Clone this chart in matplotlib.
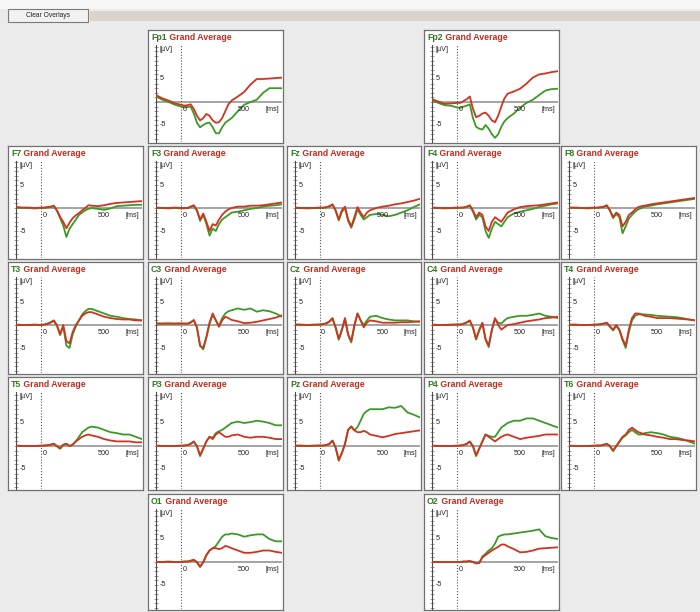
#!/usr/bin/env python3
"""Grand average ERP montage, two conditions overlaid per electrode."""

import matplotlib.pyplot as plt
from matplotlib.patches import Rectangle

W, H = 700, 612

TIME_MS = [-200, -150, -100, -50, 0,
           25, 50, 75, 100, 125, 150, 175, 200, 225, 250, 275, 300, 325, 350, 375, 400,
           450, 500, 550, 600, 650, 700, 750, 800]

# values in microvolts, green = condition A, red = condition B
FP1_G = [1.2, 0.5, 0.0, -0.6, -1.0, -1.2, -1.1, -1.0, -2.5, -4.5, -5.5, -5.0, -4.6, -4.5, -5.5, -6.8, -6.8, -5.5, -4.5, -4.0, -3.5, -2.0, -0.6, 0.0, 0.5, 2.0, 3.0, 3.0, 3.0]
FP1_R = [1.5, 0.8, 0.3, -0.3, -0.6, -0.8, -0.7, -0.5, -1.5, -3.0, -4.0, -3.5, -2.6, -3.0, -4.0, -4.5, -4.4, -3.5, -2.0, -0.5, 0.3, 1.2, 2.2, 3.8, 5.0, 5.0, 5.1, 5.2, 5.3]
FP2_G = [0.4, -0.2, -0.7, -0.8, -1.2, -1.3, -1.0, -0.8, -0.5, -3.5, -5.4, -5.8, -6.0, -5.0, -5.8, -7.0, -7.8, -7.0, -5.4, -4.2, -3.5, -2.5, -1.2, -0.2, 0.5, 1.5, 2.5, 2.8, 2.9]
FP2_R = [0.6, 0.1, -0.4, -0.3, -0.2, -0.2, 0.2, 0.6, 1.2, -1.5, -3.3, -3.0, -2.5, -2.3, -3.0, -4.0, -4.4, -3.0, -1.0, 0.8, 1.8, 2.3, 2.9, 4.0, 5.3, 6.0, 6.2, 6.5, 6.7]

F7_G = [0.1, 0.0, 0.0, -0.1, 0.0, 0.0, 0.1, 0.2, 0.4, -0.6, -2.2, -3.8, -6.3, -4.5, -3.5, -2.5, -1.5, -1.0, -0.5, -0.2, 0.0, -0.2, -0.4, -0.1, 0.4, 0.5, 0.6, 0.7, 0.7]
F7_R = [0.2, 0.1, 0.1, 0.0, 0.1, 0.1, 0.2, 0.3, 0.5, -0.5, -1.9, -3.0, -4.4, -3.2, -2.2, -1.6, -1.1, -0.5, 0.0, 0.6, 0.5, 0.4, 0.6, 0.9, 1.1, 1.2, 1.3, 1.4, 1.5]
F3_G = [0.0, 0.0, -0.1, 0.0, -0.1, -0.1, 0.0, 0.2, 0.5, -0.6, -2.8, -1.5, -3.5, -6.0, -4.5, -5.0, -3.5, -2.5, -2.0, -1.5, -1.0, -0.8, -0.5, -0.2, 0.0, 0.3, 0.5, 0.6, 0.8]
F3_R = [0.1, 0.0, 0.0, 0.1, 0.0, 0.0, 0.0, 0.3, 0.6, -0.5, -2.5, -1.2, -3.0, -5.0, -3.5, -3.8, -2.5, -1.5, -0.8, -0.3, 0.0, 0.3, 0.3, 0.5, 0.5, 0.6, 0.8, 1.0, 1.2]
FZ_G = [0.0, 0.0, -0.1, 0.0, 0.0, 0.0, 0.1, 0.3, 0.7, -0.6, -2.7, -0.8, 0.0, -2.8, -4.3, -2.5, -0.3, -1.5, -2.5, -2.0, -1.5, -1.3, -1.5, -1.8, -1.5, -1.0, -0.5, 0.2, 0.8]
FZ_R = [0.1, 0.0, 0.0, 0.0, 0.1, 0.1, 0.2, 0.4, 0.8, -0.5, -2.5, -0.5, 0.3, -2.5, -4.0, -2.0, 0.2, -1.0, -2.0, -1.0, -0.5, 0.0, 0.3, 0.5, 0.8, 1.0, 1.3, 1.6, 2.0]
F4_G = [0.0, 0.0, -0.1, 0.0, 0.0, 0.0, 0.1, 0.2, 0.5, -0.8, -2.5, -1.5, -2.0, -5.0, -6.5, -4.5, -3.0, -3.5, -4.0, -3.0, -2.0, -1.2, -0.8, -0.5, -0.2, 0.2, 0.5, 0.8, 1.0]
F4_R = [0.1, 0.0, 0.0, 0.0, 0.1, 0.1, 0.1, 0.3, 0.6, -0.5, -2.0, -1.0, -1.5, -4.0, -5.0, -3.0, -2.0, -2.5, -3.0, -2.0, -1.0, -0.3, 0.2, 0.4, 0.5, 0.6, 0.8, 1.0, 1.2]
F8_G = [0.0, 0.0, 0.0, -0.1, 0.0, 0.0, 0.1, 0.2, 0.5, -0.6, -2.2, -1.3, -2.0, -5.5, -4.0, -2.3, -1.5, -0.8, -0.3, 0.0, 0.3, 0.5, 0.8, 1.0, 1.2, 1.4, 1.6, 1.8, 2.0]
F8_R = [0.1, 0.1, 0.0, 0.0, 0.1, 0.1, 0.2, 0.3, 0.6, -0.5, -2.0, -1.0, -1.5, -4.0, -3.0, -1.5, -1.0, -0.3, 0.2, 0.4, 0.5, 0.8, 1.0, 1.2, 1.4, 1.6, 1.8, 2.0, 2.2]

T3_G = [0.0, 0.0, 0.0, 0.0, 0.0, 0.1, 0.2, 0.5, 0.9, -0.2, -2.2, -0.3, -4.5, -5.0, -2.0, -0.3, 1.0, 2.3, 3.0, 3.5, 3.5, 3.0, 2.5, 2.0, 1.8, 1.5, 1.3, 1.2, 1.0]
T3_R = [0.1, 0.0, 0.0, 0.1, 0.0, 0.1, 0.3, 0.6, 1.0, 0.0, -2.0, 0.0, -3.5, -4.0, -1.5, 0.0, 1.0, 2.0, 2.5, 2.8, 2.8, 2.3, 1.8, 1.5, 1.3, 1.2, 1.2, 1.0, 1.0]
C3_G = [0.3, 0.3, 0.3, 0.3, 0.3, 0.3, 0.3, 0.5, 1.0, -0.6, -4.5, -5.3, -2.8, 0.3, 2.2, 1.0, -0.2, 1.5, 2.5, 3.0, 3.2, 3.6, 3.3, 3.6, 2.9, 3.2, 3.0, 2.5, 1.8]
C3_R = [0.35, 0.3, 0.35, 0.3, 0.35, 0.3, 0.3, 0.6, 1.1, -0.5, -4.5, -5.0, -2.5, 0.5, 2.5, 1.0, -0.4, 1.0, 1.8, 1.5, 1.1, 0.8, 0.4, 0.5, 0.7, 1.0, 1.3, 1.6, 2.1]
CZ_G = [0.1, 0.0, 0.0, 0.0, 0.1, 0.2, 0.3, 0.7, 1.4, -0.6, -3.2, -1.2, 1.3, -2.2, -3.8, -0.3, 2.5, 1.0, 0.0, 1.0, 1.8, 2.0, 1.5, 1.2, 1.0, 1.0, 1.0, 0.8, 0.7]
CZ_R = [0.1, 0.1, 0.0, 0.1, 0.1, 0.2, 0.4, 0.8, 1.5, -0.5, -3.0, -1.0, 1.5, -2.0, -3.5, 0.0, 2.5, 1.0, -0.5, 0.5, 1.0, 0.8, 0.5, 0.5, 0.5, 0.6, 0.6, 0.7, 0.8]
C4_G = [0.0, 0.0, 0.0, 0.0, 0.1, 0.1, 0.2, 0.5, 0.9, -0.6, -3.2, -1.2, 0.3, -3.2, -4.8, -1.2, 1.3, 0.5, 0.3, 1.0, 1.5, 1.8, 2.0, 2.0, 2.2, 2.5, 2.0, 1.8, 1.5]
C4_R = [0.1, 0.0, 0.0, 0.1, 0.1, 0.1, 0.3, 0.6, 1.0, -0.5, -3.0, -1.0, 0.5, -3.0, -4.5, -1.0, 1.5, 0.0, -1.0, -0.5, 0.0, 0.2, 0.5, 0.8, 1.0, 1.2, 1.5, 1.6, 1.8]
T4_G = [0.0, 0.0, 0.0, 0.0, 0.0, 0.1, 0.1, 0.3, 0.4, -0.4, -1.2, -0.2, -1.2, -3.3, -5.0, -1.5, 1.0, 2.0, 2.3, 2.3, 2.3, 2.2, 2.0, 1.9, 1.8, 1.7, 1.5, 1.2, 1.0]
T4_R = [0.1, 0.1, 0.0, 0.0, 0.1, 0.1, 0.2, 0.3, 0.5, -0.3, -1.0, 0.0, -1.0, -3.0, -4.5, -1.0, 1.5, 2.5, 2.5, 2.3, 2.0, 1.8, 1.5, 1.5, 1.5, 1.4, 1.3, 1.2, 1.0]

T5_G = [0.0, 0.0, 0.0, 0.0, 0.0, 0.1, 0.1, 0.3, 0.4, -0.1, -0.6, 0.2, 0.4, 0.0, 0.3, 1.0, 2.0, 3.0, 3.5, 4.0, 4.2, 4.0, 3.5, 3.0, 2.8, 2.5, 2.5, 2.0, 1.5]
T5_R = [0.1, 0.0, 0.0, 0.0, 0.1, 0.1, 0.2, 0.3, 0.5, 0.0, -0.5, 0.3, 0.5, 0.0, 0.3, 1.0, 1.5, 2.0, 2.3, 2.5, 2.3, 2.0, 1.5, 1.2, 1.0, 1.0, 1.0, 0.8, 0.8]
P3_G = [0.0, 0.0, 0.0, 0.0, 0.0, 0.1, 0.2, 0.4, 0.9, -0.1, -2.2, -0.6, 1.0, 2.0, 1.8, 2.8, 3.2, 3.5, 4.0, 4.5, 5.0, 5.3, 5.0, 5.2, 5.5, 5.3, 5.0, 4.5, 4.5]
P3_R = [0.1, 0.0, 0.0, 0.0, 0.1, 0.1, 0.2, 0.5, 1.0, 0.0, -2.0, -0.5, 1.0, 2.0, 1.5, 2.5, 3.0, 2.5, 2.0, 2.0, 2.3, 2.5, 2.0, 1.8, 2.0, 2.0, 1.8, 1.5, 1.5]
PZ_G = [0.0, 0.0, 0.0, 0.0, 0.1, 0.1, 0.2, 0.4, 1.1, -0.4, -3.2, -1.6, 0.4, 3.5, 4.3, 3.4, 4.1, 5.5, 7.0, 7.6, 8.0, 8.0, 8.0, 8.4, 8.3, 8.7, 7.3, 6.8, 6.2]
PZ_R = [0.1, 0.1, 0.0, 0.1, 0.1, 0.1, 0.2, 0.5, 1.2, -0.3, -3.0, -1.5, 0.5, 3.5, 4.2, 3.4, 3.0, 3.0, 3.3, 3.0, 2.5, 2.2, 1.9, 2.2, 2.6, 2.8, 3.0, 3.2, 3.4]
P4_G = [0.0, 0.0, 0.0, 0.0, 0.0, 0.1, 0.2, 0.4, 0.9, -0.1, -2.2, -0.6, 1.0, 2.5, 2.2, 2.0, 2.0, 3.0, 4.0, 4.5, 5.0, 5.5, 5.5, 6.0, 6.0, 5.5, 5.0, 4.5, 4.0]
P4_R = [0.1, 0.0, 0.0, 0.0, 0.1, 0.1, 0.2, 0.5, 1.0, 0.0, -2.0, -0.5, 1.0, 2.5, 2.0, 1.5, 1.0, 1.5, 2.0, 2.3, 2.5, 2.0, 1.5, 1.8, 2.0, 2.2, 2.5, 2.5, 2.5]
T6_G = [0.0, 0.0, 0.0, 0.0, 0.0, 0.1, 0.1, 0.2, 0.4, -0.1, -1.1, -0.1, 0.9, 1.8, 2.3, 3.0, 3.5, 3.0, 2.5, 2.5, 2.8, 3.0, 2.8, 2.5, 2.0, 1.8, 1.5, 1.0, 0.5]
T6_R = [0.1, 0.0, 0.0, 0.0, 0.1, 0.1, 0.1, 0.3, 0.5, 0.0, -1.0, 0.0, 1.0, 2.0, 2.5, 3.5, 4.0, 3.5, 3.0, 2.8, 2.5, 2.3, 2.0, 1.8, 1.5, 1.5, 1.3, 1.2, 1.0]

O1_G = [0.0, 0.0, 0.0, 0.0, 0.0, 0.1, 0.1, 0.2, 0.4, -0.1, -1.1, -0.1, 1.5, 2.5, 3.0, 3.5, 4.5, 5.5, 6.0, 6.0, 6.2, 6.0, 5.5, 5.8, 6.0, 6.0, 5.0, 4.5, 4.5]
O1_R = [0.0, 0.0, 0.1, 0.0, 0.0, 0.1, 0.1, 0.3, 0.5, 0.0, -1.0, 0.0, 1.5, 2.5, 3.0, 3.0, 2.8, 3.0, 3.5, 3.3, 3.0, 2.5, 2.0, 2.0, 2.2, 2.5, 2.5, 2.2, 2.0]
O2_G = [0.0, 0.0, 0.0, 0.0, 0.0, 0.0, 0.1, 0.1, 0.2, 0.0, -0.3, -0.2, 1.2, 1.8, 2.5, 3.0, 4.0, 5.5, 5.8, 6.0, 6.0, 6.2, 6.4, 6.6, 6.8, 7.1, 5.6, 5.2, 5.0]
O2_R = [0.0, 0.0, 0.0, 0.0, 0.0, 0.0, 0.1, 0.1, 0.2, 0.0, -0.3, -0.2, 1.0, 1.5, 2.0, 2.5, 2.9, 3.3, 3.8, 3.8, 3.4, 2.8, 2.1, 2.2, 2.5, 2.9, 3.0, 3.1, 3.2]

# (label, row, col, green series, red series)
CHANNELS = [
    ("Fp1", 0, 1, FP1_G, FP1_R), ("Fp2", 0, 3, FP2_G, FP2_R),
    ("F7", 1, 0, F7_G, F7_R), ("F3", 1, 1, F3_G, F3_R), ("Fz", 1, 2, FZ_G, FZ_R),
    ("F4", 1, 3, F4_G, F4_R), ("F8", 1, 4, F8_G, F8_R),
    ("T3", 2, 0, T3_G, T3_R), ("C3", 2, 1, C3_G, C3_R), ("Cz", 2, 2, CZ_G, CZ_R),
    ("C4", 2, 3, C4_G, C4_R), ("T4", 2, 4, T4_G, T4_R),
    ("T5", 3, 0, T5_G, T5_R), ("P3", 3, 1, P3_G, P3_R), ("Pz", 3, 2, PZ_G, PZ_R),
    ("P4", 3, 3, P4_G, P4_R), ("T6", 3, 4, T6_G, T6_R),
    ("O1", 4, 1, O1_G, O1_R), ("O2", 4, 3, O2_G, O2_R),
]

COL_X = [(8, 143), (148, 283), (287, 421), (424, 559), (561, 696)]
ROW_Y = [(30, 143), (146, 259), (262, 374), (377, 490), (494, 610)]
ROW_ZERO = [72, 62, 63, 69, 68]   # zero line offset from panel top, px
PX_PER_UV = 4.6

LINE_GREEN = "#3b9a26"
LINE_RED = "#d3321f"
TITLE_GREEN = "#2f7a1c"
TITLE_RED = "#c42a1c"
FONT = "Liberation Sans"


def px_rect(left, top, width, height):
    return [left / W, 1 - (top + height) / H, width / W, height / H]


def draw_panel(fig, name, row, col, green, red):
    x0, x1 = COL_X[col]
    y0, y1 = ROW_Y[row]
    w, h = x1 - x0, y1 - y0

    frame = fig.add_axes(px_rect(x0, y0, w, h))
    frame.set_xticks([])
    frame.set_yticks([])
    frame.set_facecolor("white")
    for side in frame.spines.values():
        side.set_color("#707070")
        side.set_linewidth(0.9)
    t1 = frame.text(3 / w, 1 - 10 / h, name, transform=frame.transAxes,
                    color=TITLE_GREEN, fontsize=6.3, fontweight="bold", family=FONT)
    frame.annotate(" Grand Average", xy=(1, 0), xycoords=t1, va="bottom",
                   color=TITLE_RED, fontsize=6.3, fontweight="bold", family=FONT)

    top_off = 15
    zero = ROW_ZERO[row]
    ax = fig.add_axes(px_rect(x0 + 8, y0 + top_off, w - 9, h - top_off - 1))
    ymax = (zero - top_off) / PX_PER_UV
    ymin = -(h - 1 - zero) / PX_PER_UV
    ax.set_xlim(-200, 800)
    ax.set_ylim(ymin, ymax)
    ax.patch.set_alpha(0)
    for s in ("top", "right", "bottom"):
        ax.spines[s].set_visible(False)
    ax.spines["left"].set_color("#4a4a4a")
    ax.spines["left"].set_linewidth(0.8)
    ax.set_xticks([])
    ax.set_yticks(range(int(ymin), int(ymax) + 1))
    ax.set_yticklabels([])
    ax.tick_params(axis="y", direction="inout", length=2.5, width=0.5, color="#777777")

    ax.axhline(0, color="#8c8c8c", lw=1.1, zorder=1)
    ax.axvline(0, color="#555555", lw=0.8, ls=(0, (1, 1.6)), zorder=1)

    ax.plot(TIME_MS, green, color=LINE_GREEN, lw=1.3, zorder=3)
    ax.plot(TIME_MS, red, color=LINE_RED, lw=1.3, zorder=4)

    small = dict(fontsize=5.2, color="#222222", family=FONT)
    ax.text(-175, ymax - 0.3, "[µV]", va="top", ha="left", **small)
    ax.text(-170, 5, "5", va="center", ha="left", **small)
    ax.text(-170, -5, "-5", va="center", ha="left", **small)
    ax.text(25, -0.8, "0", va="top", ha="center", **small)
    ax.text(500, -0.8, "500", va="top", ha="center", **small)
    ax.text(720, -0.8, "[ms]", va="top", ha="center", **small)


def main():
    fig = plt.figure(figsize=(W / 100, H / 100), dpi=100, facecolor="#ebebeb")

    # toolbar strip and button
    fig.patches.append(Rectangle((0, 1 - 9 / H), 1, 9 / H, transform=fig.transFigure,
                                 facecolor="#f7f7f7", edgecolor="none"))
    fig.patches.append(Rectangle((90 / W, 1 - 21 / H), 610 / W, 10 / H, transform=fig.transFigure,
                                 facecolor="#d9d3cb", edgecolor="none"))
    fig.patches.append(Rectangle((8 / W, 1 - 22 / H), 80 / W, 13 / H, transform=fig.transFigure,
                                 facecolor="#f2f2f2", edgecolor="#7a7a7a", lw=0.8))
    fig.text(48 / W, 1 - 15.5 / H, "Clear Overlays", ha="center", va="center",
             fontsize=4.8, color="#222222", family=FONT)

    for name, row, col, green, red in CHANNELS:
        draw_panel(fig, name, row, col, green, red)

    fig.savefig("out.png", dpi=100, facecolor=fig.get_facecolor())


if __name__ == "__main__":
    main()
